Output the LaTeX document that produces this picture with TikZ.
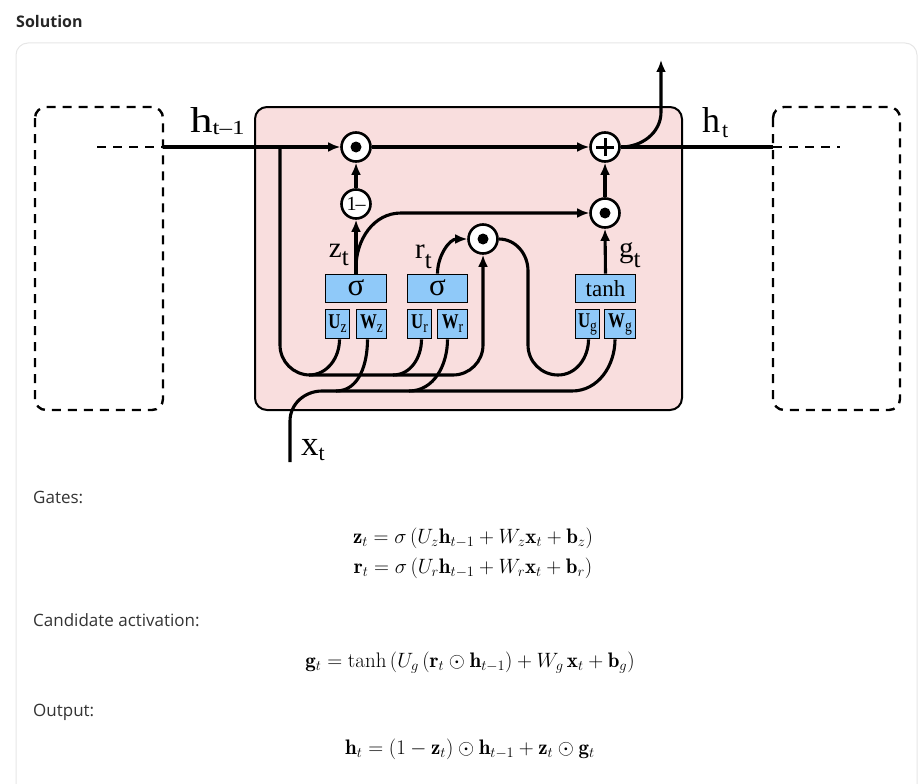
\documentclass[tikz,border=0pt]{standalone}
\usepackage{fontspec}
\usepackage{graphicx}
\newfontfamily\dfont{Liberation Serif}
\newfontfamily\uifont{Open Sans}
\usetikzlibrary{arrows.meta}

\definecolor{pinkbg}{RGB}{249,222,222}
\definecolor{gateblue}{RGB}{143,201,249}
\definecolor{cardline}{RGB}{230,230,230}
\definecolor{uitext}{RGB}{51,51,51}

% label with a lowered subscript: base size, base text, sub size, sub text, drop
\newcommand{\gl}[5]{{\dfont\fontsize{#1}{#1}\selectfont #2\raisebox{-#5pt}{\fontsize{#3}{#3}\selectfont #4}}}
% weight-matrix label inside a small box
\newcommand{\wl}[2]{\scalebox{0.8}[1]{\dfont\fontsize{21}{21}\selectfont\bfseries #1\raisebox{-4pt}{\fontsize{17}{17}\selectfont\mdseries #2}}}

\tikzset{
  wire/.style={line width=3.1pt},
  arr/.style={wire,-{Latex[length=12pt,width=10pt]}},
  ghostline/.style={line width=2.6pt,dash pattern=on 9pt off 7pt},
  opcircle/.style={circle,draw,line width=2.6pt,fill=white,minimum size=29pt,inner sep=0pt},
  gatebox/.style={draw,line width=1.8pt,fill=gateblue,minimum height=28pt,inner sep=0pt,
    font=\dfont\fontsize{23}{23}\selectfont},
  wbox/.style={draw,line width=1.8pt,fill=gateblue,minimum height=29pt,inner sep=0pt},
  ghost/.style={draw,line width=2.4pt,dash pattern=on 9pt off 7pt,rounded corners=11pt},
  uilabel/.style={anchor=base west,inner sep=0pt,text=uitext,font=\uifont\fontsize{17}{20}\selectfont},
  eqn/.style={inner sep=0pt,font=\fontsize{21}{25}\selectfont},
}

\begin{document}
\begin{tikzpicture}[x=1pt,y=-1pt]
\useasboundingbox (0,0) rectangle (918,784);
\clip (0,0) rectangle (918,784);

% page heading and card
\node[anchor=base west,inner sep=0pt,text=black!85,font=\uifont\bfseries\fontsize{16}{20}\selectfont] (title) at (16,28) {Solution};
\draw[cardline,line width=1pt,rounded corners=12pt] (16,800) -- (16,43) -- (917,43) -- (917,800);

% neighbouring time steps and the cell body
\draw[ghost] (35,107) rectangle (163,410);
\draw[ghost] (773,107) rectangle (900,410);
\draw[fill=pinkbg,line width=2pt,rounded corners=12pt] (255,107) rectangle (682,410);

% operator circles
\node[opcircle] (odot1) at (356,147) {};
\node[opcircle,font=\dfont\fontsize{20}{20}\selectfont] (omc) at (356,204) {1\kern-1pt–};
\node[opcircle] (plus) at (605,147) {};
\node[opcircle] (odot2) at (605,213) {};
\node[opcircle] (odot3) at (483,239) {};

% gate boxes
\node[gatebox,minimum width=61pt,font=\dfont\fontsize{31}{31}\selectfont] (sig1) at (356,288.5) {\raisebox{2pt}{σ}};
\node[gatebox,minimum width=60pt,font=\dfont\fontsize{31}{31}\selectfont] (sig2) at (437.5,288.5) {\raisebox{2pt}{σ}};
\node[gatebox,minimum width=60pt] (tanh) at (605.5,288.5) {tanh};
\node[wbox,minimum width=24pt] (Uz) at (337.5,324) {\wl{U}{z}};
\node[wbox,minimum width=30pt] (Wz) at (371.5,324) {\wl{W}{z}};
\node[wbox,minimum width=24pt] (Ur) at (419.5,324) {\wl{U}{r}};
\node[wbox,minimum width=30pt] (Wr) at (452.5,324) {\wl{W}{r}};
\node[wbox,minimum width=24pt] (Ug) at (587.5,324) {\wl{U}{g}};
\node[wbox,minimum width=31pt] (Wg) at (620,324) {\wl{W}{g}};

% free ends of the wires
\coordinate (hin) at (97,147);
\coordinate (hleft) at (163,147);
\coordinate (hsplit) at (280,147);
\coordinate (hright) at (773,147);
\coordinate (hout) at (840,147);
\coordinate (hup) at (661,60);
\coordinate (xin) at (290,462);

% previous hidden state
\draw[ghostline] (hin) -- (hleft);
\draw[arr] (hleft) -- (odot1);
\draw[arr,rounded corners=30pt] (hsplit) |- (483,375) -- (odot3.south);
\draw[wire] ([xshift=2pt]Uz.south) to[out=-90,in=0] (309,375);
\draw[wire] ([xshift=2pt]Ur.south) to[out=-90,in=0] (393,375);

% input x_t
\draw[wire] (xin) -- (290,421) to[out=90,in=180] (322,391) -- (572,391) to[out=0,in=-90] ([xshift=-5pt]Wg.south);
\draw[wire] ([xshift=-4pt]Wz.south) to[out=-90,in=0] (336,391);
\draw[wire] ([xshift=-5pt]Wr.south) to[out=-90,in=0] (409,391);

% update gate
\draw[arr] (sig1.north) -- (omc.south);
\draw[arr] (omc.north) -- (odot1.south);
\draw[arr] ([yshift=6pt]sig1.north) to[out=90,in=180] (401,213) -- (odot2.west);

% reset gate and candidate
\draw[arr] (sig2.north) to[out=90,in=180] (odot3.west);
\draw[wire] (odot3.east) to[out=0,in=90] (528,271) -- (528,345) to[out=-90,in=180] (558,375) to[out=0,in=-90] ([xshift=1pt]Ug.south);
\draw[arr] (tanh.north) -- (odot2.south);
\draw[arr] (odot2.north) -- (plus.south);
\draw[arr] (odot1.east) -- (plus.west);

% new hidden state
\draw[wire] (plus.east) -- (hright);
\draw[ghostline] (hright) -- (hout);
\draw[arr] (plus.east) to[out=0,in=-90] (661,112) -- (hup);

% symbols inside the circles
\foreach \c in {odot1,odot2,odot3} \fill (\c) circle (5.5pt);
\draw[line width=3pt] ([xshift=-9pt]plus.center) -- ([xshift=9pt]plus.center);
\draw[line width=3pt] ([yshift=-9pt]plus.center) -- ([yshift=9pt]plus.center);

% wire labels
\node[anchor=base west,inner sep=0pt] (lhprev) at (190,132) {\scalebox{1.25}[1]{\gl{36}{h}{20}{t–1}{2}}};
\node[anchor=base west,inner sep=0pt] (lhnow) at (702,132) {\gl{36}{h\kern2pt}{22}{t}{5}};
\node[anchor=base east,inner sep=0pt] (lz) at (349,257) {\gl{29}{z}{25}{t}{8}};
\node[anchor=base east,inner sep=0pt] (lr) at (432,258) {\gl{29}{r}{25}{t}{10}};
\node[anchor=base west,inner sep=0pt] (lg) at (619,257) {\gl{29}{g}{25}{t}{10}};
\node[anchor=base west,inner sep=0pt] (lx) at (301,455) {\gl{35}{x}{22}{t}{5}};

% equations
\node[uilabel] (tg) at (33,503) {Gates:};
\node[eqn] (e1) at (473,538) {$\mathbf{z}_t = \sigma\left(U_z\mathbf{h}_{t-1} + W_z\mathbf{x}_t + \mathbf{b}_z\right)$};
\node[eqn] (e2) at (473,568) {$\mathbf{r}_t = \sigma\left(U_r\mathbf{h}_{t-1} + W_r\mathbf{x}_t + \mathbf{b}_r\right)$};
\node[uilabel] (tc) at (33,626) {Candidate activation:};
\node[eqn] (e3) at (470,663) {$\mathbf{g}_t = \tanh\left(U_g\left(\mathbf{r}_t\odot\mathbf{h}_{t-1}\right) + W_g\,\mathbf{x}_t + \mathbf{b}_g\right)$};
\node[uilabel] (to) at (33,716) {Output:};
\node[eqn] (e4) at (470,749) {$\mathbf{h}_t = \left(1-\mathbf{z}_t\right)\odot\mathbf{h}_{t-1} + \mathbf{z}_t\odot\mathbf{g}_t$};
\end{tikzpicture}
\end{document}
